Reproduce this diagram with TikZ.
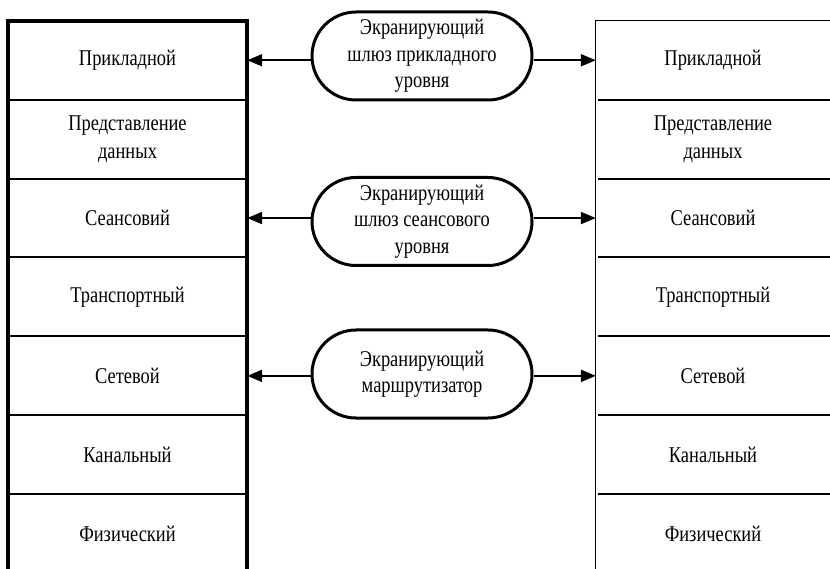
\documentclass[tikz,border=0pt]{standalone}
\usepackage{fontspec}
\setmainfont{Liberation Serif}[FakeStretch=0.82]
\usetikzlibrary{arrows.meta,positioning,shapes.misc}
\tikzset{
    % one row of an OSI stack
    layer/.style={
        minimum width=239pt, minimum height=78.5pt, inner sep=0pt,
        align=center, font=\fontsize{22.5}{27.5}\selectfont
    },
    rlayer/.style={layer, minimum width=234pt},
    % screening gateway capsule
    gateway/.style={
        rounded rectangle, draw, line width=3pt,
        minimum width=220pt, minimum height=88pt, inner sep=0pt,
        align=center, font=\fontsize{22.5}{26.5}\selectfont
    },
    leftframe/.style={line width=3.5pt, line cap=rect},
    rightframe/.style={line width=1pt},
    divider/.style={line width=2pt},
    arr/.style={-{Triangle[length=15pt,width=12pt]}, line width=2pt},
}
\begin{document}
\begin{tikzpicture}[x=1pt,y=-1pt]
  \useasboundingbox (0,0) rectangle (830,569);

  % left stack
  \node[layer] (l1) at (127.5,60.25) {Прикладной};
  \node[layer,below=0pt of l1] (l2) {Представление\\данных};
  \node[layer,below=0pt of l2] (l3) {Сеансовий};
  \node[layer,below=0pt of l3] (l4) {Транспортный};
  \node[layer,below=0pt of l4] (l5) {Сетевой};
  \node[layer,below=0pt of l5] (l6) {Канальный};
  \node[layer,below=0pt of l6] (l7) {Физический};

  % right stack
  \node[rlayer] (r1) at (713,60.25) {Прикладной};
  \node[rlayer,below=0pt of r1] (r2) {Представление\\данных};
  \node[rlayer,below=0pt of r2] (r3) {Сеансовий};
  \node[rlayer,below=0pt of r3] (r4) {Транспортный};
  \node[rlayer,below=0pt of r4] (r5) {Сетевой};
  \node[rlayer,below=0pt of r5] (r6) {Канальный};
  \node[rlayer,below=0pt of r6] (r7) {Физический};

  \draw[leftframe] (l7.south west) -- (l1.north west) -- (l1.north east) -- (l7.south east);
  \draw[rightframe] (r7.south west) -- (r1.north west) -- (r1.north east);
  \foreach \i in {1,...,6} {
    \draw[divider] (l\i.south west) -- (l\i.south east);
    \draw[divider] ([xshift=2pt]r\i.south west) -- (r\i.south east);
  }

  % gateways
  \node[gateway] (gw1) at (422,56)    {Экранирующий\\шлюз прикладного\\уровня};
  \node[gateway] (gw2) at (422,221.5) {Экранирующий\\шлюз сеансового\\уровня};
  \node[gateway] (gw3) at (422,374)   {Экранирующий\\маршрутизатор};

  \draw[arr] (gw1.west |- l1) -- (l1.east);
  \draw[arr] (gw1.east |- r1) -- (r1.west);
  \draw[arr] (gw2.west |- l3) -- (l3.east);
  \draw[arr] (gw2.east |- r3) -- (r3.west);
  \draw[arr] (gw3.west |- l5) -- (l5.east);
  \draw[arr] (gw3.east |- r5) -- (r5.west);
\end{tikzpicture}
\end{document}
